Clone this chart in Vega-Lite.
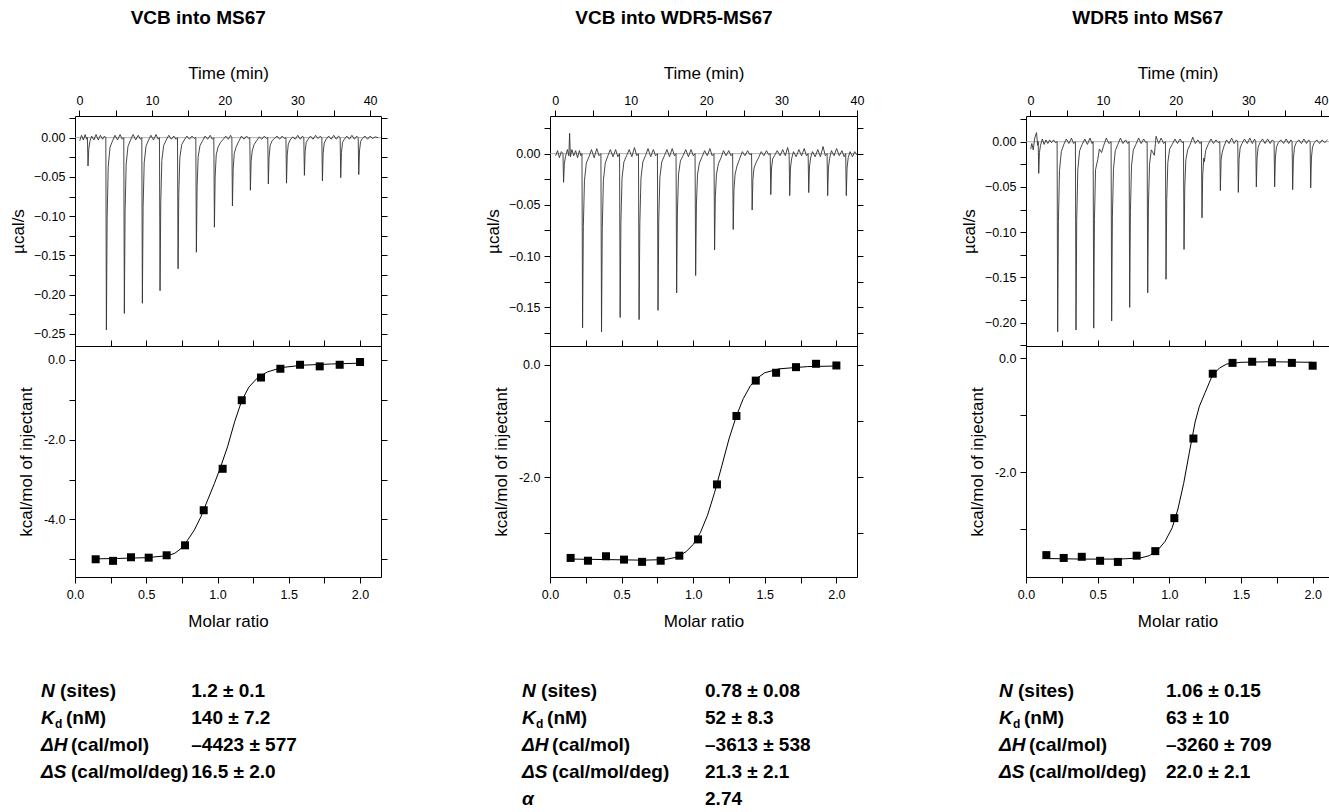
{
"$schema":"https://vega.github.io/schema/vega-lite/v6.json",
"padding":{"left":8,"top":8,"right":0,"bottom":0},
"autosize":{"type":"pad"},
"config":{
 "font":"Liberation Sans",
 "view":{"stroke":"black","strokeWidth":1},
 "axis":{"domain":false,"grid":false,"tickColor":"black","tickWidth":1,"labelFont":"Liberation Sans","labelFontSize":12.5,"labelColor":"black","titleFont":"Liberation Sans","titleFontSize":17,"titleFontWeight":"normal","titleColor":"black","labelFlush":false,"labelOverlap":false,"labelBound":false},
 "title":{"font":"Liberation Sans","fontSize":19,"fontWeight":"bold","color":"black","anchor":"middle","frame":"bounds","offset":36},
 "text":{"font":"Liberation Sans","color":"black"}
},
"datasets":{
"r1":[{"t":0.05,"v":-0.004},{"t":0.3,"v":0.003},{"t":0.55,"v":-0.003},{"t":0.8,"v":0.004},{"t":1.0,"v":-0.002},{"t":1.11,"v":0},{"t":1.19,"v":-0.036},{"t":1.29,"v":-0.015},{"t":1.44,"v":-0.005},{"t":1.69,"v":0.002},{"t":2.0,"v":-0.003},{"t":2.3,"v":0.004},{"t":2.6,"v":-0.003},{"t":2.9,"v":0.003},{"t":3.2,"v":-0.002},{"t":3.45,"v":0.002},{"t":3.64,"v":0},
{"t":3.72,"v":-0.245},{"t":3.82,"v":-0.103},{"t":3.97,"v":-0.037},{"t":4.22,"v":-0.012},{"t":4.57,"v":-0.004},{"t":4.9,"v":0.003},{"t":5.25,"v":-0.003},{"t":5.6,"v":0.004},{"t":5.9,"v":-0.002},{"t":6.11,"v":0},
{"t":6.19,"v":-0.224},{"t":6.29,"v":-0.094},{"t":6.44,"v":-0.034},{"t":6.69,"v":-0.011},{"t":7.04,"v":-0.003},{"t":7.4,"v":0.004},{"t":7.75,"v":-0.003},{"t":8.1,"v":0.003},{"t":8.4,"v":-0.002},{"t":8.59,"v":0},
{"t":8.67,"v":-0.211},{"t":8.77,"v":-0.089},{"t":8.92,"v":-0.032},{"t":9.17,"v":-0.011},{"t":9.52,"v":-0.003},{"t":9.85,"v":0.003},{"t":10.2,"v":-0.003},{"t":10.55,"v":0.004},{"t":10.85,"v":-0.002},{"t":11.02,"v":0},
{"t":11.1,"v":-0.195},{"t":11.2,"v":-0.082},{"t":11.35,"v":-0.029},{"t":11.6,"v":-0.01},{"t":11.95,"v":-0.003},{"t":12.3,"v":0.003},{"t":12.65,"v":-0.002},{"t":13.0,"v":0.002},{"t":13.3,"v":-0.002},{"t":13.5,"v":0},
{"t":13.58,"v":-0.167},{"t":13.68,"v":-0.07},{"t":13.83,"v":-0.025},{"t":14.08,"v":-0.009},{"t":14.43,"v":-0.003},{"t":14.8,"v":0.002},{"t":15.15,"v":-0.002},{"t":15.5,"v":0.002},{"t":15.8,"v":-0.001},{"t":16.02,"v":0},
{"t":16.1,"v":-0.146},{"t":16.2,"v":-0.062},{"t":16.35,"v":-0.024},{"t":16.6,"v":-0.01},{"t":16.95,"v":-0.004},{"t":17.3,"v":0.002},{"t":17.65,"v":-0.002},{"t":18.0,"v":0.003},{"t":18.3,"v":-0.002},{"t":18.5,"v":0},
{"t":18.58,"v":-0.114},{"t":18.68,"v":-0.05},{"t":18.83,"v":-0.022},{"t":19.08,"v":-0.012},{"t":19.43,"v":-0.006},{"t":19.8,"v":-0.002},{"t":20.15,"v":0.002},{"t":20.5,"v":-0.002},{"t":20.8,"v":0.003},{"t":20.98,"v":0},
{"t":21.06,"v":-0.087},{"t":21.16,"v":-0.04},{"t":21.31,"v":-0.02},{"t":21.56,"v":-0.012},{"t":21.91,"v":-0.005},{"t":22.3,"v":0.002},{"t":22.65,"v":-0.002},{"t":23.0,"v":0.002},{"t":23.3,"v":-0.001},{"t":23.45,"v":0},
{"t":23.53,"v":-0.067},{"t":23.63,"v":-0.03},{"t":23.78,"v":-0.017},{"t":24.03,"v":-0.009},{"t":24.38,"v":-0.004},{"t":24.75,"v":0.001},{"t":25.1,"v":-0.002},{"t":25.45,"v":0.002},{"t":25.75,"v":-0.001},{"t":25.92,"v":0},
{"t":26.0,"v":-0.059},{"t":26.1,"v":-0.025},{"t":26.25,"v":-0.01},{"t":26.5,"v":-0.004},{"t":26.85,"v":-0.001},{"t":27.2,"v":0.002},{"t":27.55,"v":-0.002},{"t":27.9,"v":0.002},{"t":28.2,"v":-0.001},{"t":28.42,"v":0},
{"t":28.5,"v":-0.058},{"t":28.6,"v":-0.022},{"t":28.75,"v":-0.008},{"t":29.0,"v":-0.003},{"t":29.35,"v":0.001},{"t":29.7,"v":-0.002},{"t":30.05,"v":0.003},{"t":30.4,"v":-0.002},{"t":30.7,"v":0.002},{"t":30.88,"v":0},
{"t":30.96,"v":-0.048},{"t":31.06,"v":-0.018},{"t":31.21,"v":-0.006},{"t":31.46,"v":-0.002},{"t":31.8,"v":0.002},{"t":32.15,"v":-0.002},{"t":32.5,"v":0.003},{"t":32.85,"v":-0.001},{"t":33.15,"v":0.002},{"t":33.36,"v":0},
{"t":33.44,"v":-0.055},{"t":33.54,"v":-0.02},{"t":33.69,"v":-0.007},{"t":33.94,"v":-0.002},{"t":34.3,"v":0.002},{"t":34.65,"v":-0.002},{"t":35.0,"v":0.003},{"t":35.35,"v":-0.002},{"t":35.65,"v":0.002},{"t":35.88,"v":0},
{"t":35.96,"v":-0.051},{"t":36.06,"v":-0.019},{"t":36.21,"v":-0.006},{"t":36.46,"v":-0.002},{"t":36.8,"v":0.002},{"t":37.15,"v":-0.002},{"t":37.5,"v":0.003},{"t":37.85,"v":-0.002},{"t":38.15,"v":0.002},{"t":38.36,"v":0},
{"t":38.44,"v":-0.047},{"t":38.54,"v":-0.017},{"t":38.69,"v":-0.005},{"t":38.94,"v":-0.001},{"t":39.3,"v":0.002},{"t":39.65,"v":-0.002},{"t":40.0,"v":0.002},{"t":40.35,"v":-0.001},{"t":40.7,"v":0.001},{"t":41.1,"v":0}],
"r2":[{"t":0.05,"v":-0.002},{"t":0.3,"v":0.003},{"t":0.55,"v":-0.004},{"t":0.8,"v":0.002},{"t":1.02,"v":0},{"t":1.1,"v":-0.028},{"t":1.2,"v":-0.01},{"t":1.35,"v":-0.003},{"t":1.6,"v":0.004},{"t":1.8,"v":-0.002},{"t":1.9,"v":0.02},{"t":2.0,"v":-0.003},{"t":2.2,"v":0.004},{"t":2.45,"v":-0.002},{"t":2.7,"v":0.003},{"t":2.95,"v":-0.004},{"t":3.2,"v":0.003},{"t":3.4,"v":-0.002},{"t":3.54,"v":0},
{"t":3.62,"v":-0.17},{"t":3.72,"v":-0.071},{"t":3.87,"v":-0.026},{"t":4.12,"v":-0.009},{"t":4.47,"v":-0.003},{"t":4.8,"v":0.004},{"t":5.15,"v":-0.004},{"t":5.5,"v":0.005},{"t":5.8,"v":-0.002},{"t":6.05,"v":0},
{"t":6.13,"v":-0.174},{"t":6.23,"v":-0.073},{"t":6.38,"v":-0.026},{"t":6.63,"v":-0.009},{"t":6.98,"v":-0.002},{"t":7.3,"v":0.004},{"t":7.65,"v":-0.003},{"t":8.0,"v":0.004},{"t":8.3,"v":-0.003},{"t":8.52,"v":0},
{"t":8.6,"v":-0.16},{"t":8.7,"v":-0.067},{"t":8.85,"v":-0.024},{"t":9.1,"v":-0.008},{"t":9.45,"v":-0.002},{"t":9.8,"v":0.004},{"t":10.15,"v":-0.003},{"t":10.5,"v":0.006},{"t":10.8,"v":-0.002},{"t":11.03,"v":0},
{"t":11.11,"v":-0.162},{"t":11.21,"v":-0.068},{"t":11.36,"v":-0.024},{"t":11.61,"v":-0.008},{"t":11.96,"v":-0.002},{"t":12.3,"v":0.005},{"t":12.65,"v":-0.003},{"t":13.0,"v":0.004},{"t":13.3,"v":-0.002},{"t":13.54,"v":0},
{"t":13.62,"v":-0.153},{"t":13.72,"v":-0.064},{"t":13.87,"v":-0.023},{"t":14.12,"v":-0.008},{"t":14.47,"v":-0.002},{"t":14.8,"v":0.004},{"t":15.15,"v":-0.003},{"t":15.5,"v":0.005},{"t":15.8,"v":-0.002},{"t":16.01,"v":0},
{"t":16.09,"v":-0.136},{"t":16.19,"v":-0.057},{"t":16.34,"v":-0.02},{"t":16.59,"v":-0.007},{"t":16.94,"v":-0.002},{"t":17.3,"v":0.004},{"t":17.65,"v":-0.003},{"t":18.0,"v":0.004},{"t":18.3,"v":-0.002},{"t":18.53,"v":0},
{"t":18.61,"v":-0.119},{"t":18.71,"v":-0.05},{"t":18.86,"v":-0.02},{"t":19.11,"v":-0.009},{"t":19.46,"v":-0.003},{"t":19.8,"v":0.003},{"t":20.15,"v":-0.002},{"t":20.5,"v":0.005},{"t":20.8,"v":-0.002},{"t":21.04,"v":0},
{"t":21.12,"v":-0.094},{"t":21.22,"v":-0.042},{"t":21.37,"v":-0.02},{"t":21.62,"v":-0.01},{"t":21.97,"v":-0.004},{"t":22.3,"v":0.003},{"t":22.65,"v":-0.002},{"t":23.0,"v":0.003},{"t":23.3,"v":-0.002},{"t":23.51,"v":0},
{"t":23.59,"v":-0.074},{"t":23.69,"v":-0.035},{"t":23.84,"v":-0.02},{"t":24.09,"v":-0.012},{"t":24.44,"v":-0.005},{"t":24.8,"v":0.002},{"t":25.15,"v":-0.002},{"t":25.5,"v":0.003},{"t":25.8,"v":-0.001},{"t":26.02,"v":0},
{"t":26.1,"v":-0.055},{"t":26.2,"v":-0.025},{"t":26.35,"v":-0.014},{"t":26.6,"v":-0.009},{"t":26.95,"v":-0.004},{"t":27.3,"v":0.002},{"t":27.65,"v":-0.002},{"t":28.0,"v":0.003},{"t":28.3,"v":-0.001},{"t":28.49,"v":0},
{"t":28.57,"v":-0.04},{"t":28.67,"v":-0.014},{"t":28.82,"v":-0.005},{"t":29.07,"v":-0.002},{"t":29.42,"v":0.003},{"t":29.8,"v":-0.002},{"t":30.15,"v":0.004},{"t":30.5,"v":-0.002},{"t":30.8,"v":0.006},{"t":31.0,"v":0},
{"t":31.08,"v":-0.041},{"t":31.18,"v":-0.014},{"t":31.33,"v":-0.005},{"t":31.58,"v":0.002},{"t":31.93,"v":-0.003},{"t":32.3,"v":0.004},{"t":32.65,"v":-0.002},{"t":33.0,"v":0.005},{"t":33.3,"v":-0.002},{"t":33.52,"v":0},
{"t":33.6,"v":-0.038},{"t":33.7,"v":-0.013},{"t":33.85,"v":-0.004},{"t":34.1,"v":0.002},{"t":34.45,"v":-0.003},{"t":34.8,"v":0.004},{"t":35.15,"v":-0.003},{"t":35.5,"v":0.007},{"t":35.8,"v":-0.002},{"t":36.03,"v":0},
{"t":36.11,"v":-0.041},{"t":36.21,"v":-0.014},{"t":36.36,"v":-0.005},{"t":36.61,"v":0.003},{"t":36.96,"v":-0.002},{"t":37.3,"v":0.005},{"t":37.65,"v":-0.002},{"t":38.0,"v":0.003},{"t":38.3,"v":-0.003},{"t":38.5,"v":0},
{"t":38.58,"v":-0.041},{"t":38.68,"v":-0.014},{"t":38.83,"v":-0.004},{"t":39.08,"v":0.002},{"t":39.4,"v":-0.003},{"t":39.7,"v":0.002},{"t":39.95,"v":-0.001}],
"r3":[{"t":0.05,"v":-0.008},{"t":0.2,"v":-0.002},{"t":0.4,"v":-0.009},{"t":0.6,"v":0.004},{"t":0.85,"v":0.01},{"t":1.0,"v":-0.004},{"t":1.08,"v":0},{"t":1.15,"v":-0.035},{"t":1.25,"v":-0.012},{"t":1.4,"v":-0.004},{"t":1.65,"v":0.003},{"t":1.9,"v":-0.003},{"t":2.15,"v":0.002},{"t":2.4,"v":-0.002},{"t":2.65,"v":0.002},{"t":2.9,"v":-0.001},{"t":3.2,"v":0.002},{"t":3.45,"v":-0.001},{"t":3.68,"v":0},
{"t":3.76,"v":-0.21},{"t":3.86,"v":-0.088},{"t":4.01,"v":-0.032},{"t":4.26,"v":-0.011},{"t":4.61,"v":-0.003},{"t":4.95,"v":0.003},{"t":5.3,"v":-0.002},{"t":5.65,"v":0.004},{"t":5.95,"v":-0.002},{"t":6.2,"v":0},
{"t":6.28,"v":-0.208},{"t":6.38,"v":-0.087},{"t":6.53,"v":-0.031},{"t":6.78,"v":-0.01},{"t":7.13,"v":-0.003},{"t":7.5,"v":0.003},{"t":7.85,"v":-0.003},{"t":8.2,"v":0.004},{"t":8.5,"v":-0.002},{"t":8.64,"v":0},
{"t":8.72,"v":-0.206},{"t":8.82,"v":-0.086},{"t":8.97,"v":-0.031},{"t":9.27,"v":-0.02},{"t":9.5,"v":-0.008},{"t":9.8,"v":-0.012},{"t":10.1,"v":-0.004},{"t":10.45,"v":0.004},{"t":10.8,"v":-0.002},{"t":11.11,"v":0},
{"t":11.19,"v":-0.198},{"t":11.29,"v":-0.083},{"t":11.44,"v":-0.03},{"t":11.69,"v":-0.01},{"t":12.04,"v":-0.003},{"t":12.4,"v":0.004},{"t":12.75,"v":-0.002},{"t":13.1,"v":0.002},{"t":13.4,"v":-0.002},{"t":13.59,"v":0},
{"t":13.67,"v":-0.183},{"t":13.77,"v":-0.077},{"t":13.92,"v":-0.027},{"t":14.17,"v":-0.009},{"t":14.52,"v":-0.003},{"t":14.9,"v":0.004},{"t":15.25,"v":-0.002},{"t":15.6,"v":0.003},{"t":15.9,"v":-0.001},{"t":16.07,"v":0},
{"t":16.15,"v":-0.167},{"t":16.25,"v":-0.07},{"t":16.4,"v":-0.025},{"t":16.65,"v":-0.009},{"t":17.06,"v":-0.015},{"t":17.3,"v":0.006},{"t":17.65,"v":-0.002},{"t":18.0,"v":0.004},{"t":18.35,"v":-0.002},{"t":18.59,"v":0},
{"t":18.67,"v":-0.152},{"t":18.77,"v":-0.064},{"t":18.92,"v":-0.023},{"t":19.17,"v":-0.008},{"t":19.52,"v":-0.003},{"t":19.9,"v":0.003},{"t":20.25,"v":-0.002},{"t":20.6,"v":0.003},{"t":20.9,"v":-0.001},{"t":21.07,"v":0},
{"t":21.15,"v":-0.119},{"t":21.25,"v":-0.05},{"t":21.4,"v":-0.02},{"t":21.65,"v":-0.009},{"t":22.0,"v":-0.003},{"t":22.35,"v":0.005},{"t":22.7,"v":-0.002},{"t":23.05,"v":0.002},{"t":23.35,"v":-0.002},{"t":23.54,"v":0},
{"t":23.62,"v":-0.084},{"t":23.72,"v":-0.037},{"t":23.87,"v":-0.018},{"t":23.95,"v":-0.022},{"t":24.12,"v":-0.01},{"t":24.47,"v":-0.003},{"t":24.85,"v":0.003},{"t":25.2,"v":-0.002},{"t":25.55,"v":0.002},{"t":25.85,"v":-0.001},{"t":26.07,"v":0},
{"t":26.15,"v":-0.054},{"t":26.25,"v":-0.02},{"t":26.4,"v":-0.012},{"t":26.65,"v":-0.005},{"t":27.0,"v":0.002},{"t":27.35,"v":-0.002},{"t":27.7,"v":0.004},{"t":28.05,"v":-0.002},{"t":28.35,"v":0.002},{"t":28.54,"v":0},
{"t":28.62,"v":-0.056},{"t":28.72,"v":-0.02},{"t":28.87,"v":-0.007},{"t":29.12,"v":-0.002},{"t":29.47,"v":0.003},{"t":29.85,"v":-0.002},{"t":30.2,"v":0.004},{"t":30.55,"v":-0.002},{"t":30.85,"v":0.003},{"t":31.02,"v":0},
{"t":31.1,"v":-0.05},{"t":31.2,"v":-0.018},{"t":31.35,"v":-0.006},{"t":31.6,"v":-0.001},{"t":31.95,"v":0.003},{"t":32.3,"v":-0.002},{"t":32.65,"v":0.003},{"t":33.0,"v":-0.002},{"t":33.3,"v":0.002},{"t":33.54,"v":0},
{"t":33.62,"v":-0.05},{"t":33.72,"v":-0.018},{"t":33.87,"v":-0.006},{"t":34.12,"v":-0.001},{"t":34.47,"v":0.002},{"t":34.85,"v":-0.002},{"t":35.2,"v":0.003},{"t":35.55,"v":-0.002},{"t":35.85,"v":0.002},{"t":36.02,"v":0},
{"t":36.1,"v":-0.053},{"t":36.2,"v":-0.019},{"t":36.35,"v":-0.006},{"t":36.6,"v":-0.001},{"t":36.95,"v":0.002},{"t":37.3,"v":-0.002},{"t":37.65,"v":0.003},{"t":38.0,"v":-0.002},{"t":38.3,"v":0.002},{"t":38.5,"v":0},
{"t":38.58,"v":-0.051},{"t":38.68,"v":-0.018},{"t":38.83,"v":-0.006},{"t":39.08,"v":-0.001},{"t":39.43,"v":0.002},{"t":39.8,"v":-0.002},{"t":40.15,"v":0.002},{"t":40.5,"v":-0.001},{"t":40.9,"v":0.002}],
"f1":[{"m":0.14,"h":-4.99},{"m":0.3,"h":-4.98},{"m":0.5,"h":-4.96},{"m":0.65,"h":-4.91},{"m":0.7,"h":-4.85},{"m":0.744,"h":-4.73},{"m":0.79,"h":-4.52},{"m":0.837,"h":-4.27},{"m":0.884,"h":-3.93},{"m":0.931,"h":-3.51},{"m":0.978,"h":-3.1},{"m":1.02,"h":-2.7},{"m":1.07,"h":-2.18},{"m":1.12,"h":-1.55},{"m":1.17,"h":-1.02},{"m":1.22,"h":-0.68},{"m":1.28,"h":-0.45},{"m":1.35,"h":-0.3},{"m":1.45,"h":-0.19},{"m":1.6,"h":-0.13},{"m":1.8,"h":-0.1},{"m":2.0,"h":-0.08}],
"f2":[{"m":0.14,"h":-3.46},{"m":0.4,"h":-3.47},{"m":0.65,"h":-3.48},{"m":0.8,"h":-3.47},{"m":0.88,"h":-3.43},{"m":0.95,"h":-3.33},{"m":1.0,"h":-3.2},{"m":1.05,"h":-2.99},{"m":1.1,"h":-2.68},{"m":1.15,"h":-2.27},{"m":1.2,"h":-1.8},{"m":1.25,"h":-1.32},{"m":1.3,"h":-0.92},{"m":1.35,"h":-0.6},{"m":1.4,"h":-0.37},{"m":1.45,"h":-0.23},{"m":1.5,"h":-0.14},{"m":1.6,"h":-0.07},{"m":1.8,"h":-0.03},{"m":2.0,"h":-0.02}],
"f3":[{"m":0.14,"h":-3.52},{"m":0.4,"h":-3.53},{"m":0.65,"h":-3.53},{"m":0.8,"h":-3.51},{"m":0.86,"h":-3.47},{"m":0.92,"h":-3.37},{"m":0.97,"h":-3.22},{"m":1.02,"h":-2.98},{"m":1.06,"h":-2.65},{"m":1.1,"h":-2.2},{"m":1.14,"h":-1.65},{"m":1.18,"h":-1.12},{"m":1.21,"h":-0.84},{"m":1.25,"h":-0.6},{"m":1.3,"h":-0.3},{"m":1.35,"h":-0.17},{"m":1.4,"h":-0.1},{"m":1.5,"h":-0.07},{"m":1.7,"h":-0.06},{"m":2.0,"h":-0.07}],
"p1":[{"m":0.145,"h":-5.0},{"m":0.267,"h":-5.04},{"m":0.393,"h":-4.95},{"m":0.517,"h":-4.96},{"m":0.643,"h":-4.9},{"m":0.772,"h":-4.65},{"m":0.903,"h":-3.77},{"m":1.036,"h":-2.73},{"m":1.17,"h":-1.01},{"m":1.305,"h":-0.44},{"m":1.441,"h":-0.22},{"m":1.579,"h":-0.12},{"m":1.717,"h":-0.16},{"m":1.857,"h":-0.12},{"m":2.0,"h":-0.05}],
"p2":[{"m":0.144,"h":-3.44},{"m":0.265,"h":-3.49},{"m":0.391,"h":-3.41},{"m":0.517,"h":-3.47},{"m":0.643,"h":-3.51},{"m":0.773,"h":-3.49},{"m":0.903,"h":-3.4},{"m":1.034,"h":-3.11},{"m":1.166,"h":-2.13},{"m":1.302,"h":-0.91},{"m":1.437,"h":-0.28},{"m":1.579,"h":-0.14},{"m":1.718,"h":-0.04},{"m":1.858,"h":0.02},{"m":2.0,"h":-0.01}],
"p3":[{"m":0.142,"h":-3.46},{"m":0.263,"h":-3.51},{"m":0.389,"h":-3.49},{"m":0.517,"h":-3.56},{"m":0.641,"h":-3.58},{"m":0.772,"h":-3.47},{"m":0.902,"h":-3.39},{"m":1.035,"h":-2.81},{"m":1.168,"h":-1.41},{"m":1.303,"h":-0.27},{"m":1.441,"h":-0.08},{"m":1.578,"h":-0.06},{"m":1.716,"h":-0.07},{"m":1.855,"h":-0.08},{"m":2.0,"h":-0.13}],
"tab":[
{"p":1,"r":1,"k":"N","sym":"N","rest":"(sites)","val":"1.2 ± 0.1"},
{"p":1,"r":2,"k":"K","sym":"K","sub":"d","rest":"(nM)","val":"140 ± 7.2"},
{"p":1,"r":3,"k":"D","sym":"ΔH","rest":"(cal/mol)","val":"–4423 ± 577"},
{"p":1,"r":4,"k":"D","sym":"ΔS","rest":"(cal/mol/deg)","val":"16.5 ± 2.0"},
{"p":2,"r":1,"k":"N","sym":"N","rest":"(sites)","val":"0.78 ± 0.08"},
{"p":2,"r":2,"k":"K","sym":"K","sub":"d","rest":"(nM)","val":"52 ± 8.3"},
{"p":2,"r":3,"k":"D","sym":"ΔH","rest":"(cal/mol)","val":"–3613 ± 538"},
{"p":2,"r":4,"k":"D","sym":"ΔS","rest":"(cal/mol/deg)","val":"21.3 ± 2.1"},
{"p":2,"r":5,"k":"A","sym":"α","val":"2.74"},
{"p":3,"r":1,"k":"N","sym":"N","rest":"(sites)","val":"1.06 ± 0.15"},
{"p":3,"r":2,"k":"K","sym":"K","sub":"d","rest":"(nM)","val":"63 ± 10"},
{"p":3,"r":3,"k":"D","sym":"ΔH","rest":"(cal/mol)","val":"–3260 ± 709"},
{"p":3,"r":4,"k":"D","sym":"ΔS","rest":"(cal/mol/deg)","val":"22.0 ± 2.1"}
]
},
"bounds":"flush",
"columns":3,
"spacing":{"row":0,"column":169},
"concat":[
 {"width":306,"height":230,"title":"VCB into MS67",
  "layer":[
   {"data":{"values":[{}]},"mark":{"type":"rule","color":"#999999","strokeWidth":0.8},
    "encoding":{"y":{"datum":0,"type":"quantitative","scale":{"domain":[-0.2654,0.0276],"nice":false,"zero":false},
     "axis":{"orient":"right","title":null,"labels":false,"values":[-0.25,-0.225,-0.2,-0.175,-0.15,-0.125,-0.1,-0.075,-0.05,-0.025,0,0.025],"tickSize":6,
      "encode":{"ticks":{"x2":{"condition":{"test":"abs(datum.value*20-round(datum.value*20))<0.01","value":-6},"value":-3}}}}}}},
   {"data":{"name":"r1"},"mark":{"type":"line","color":"#333333","strokeWidth":0.9},
    "encoding":{
     "x":{"field":"t","type":"quantitative","scale":{"domain":[-0.6,41.5],"nice":false,"zero":false},
      "axis":{"orient":"top","title":"Time (min)","values":[0,5,10,15,20,25,30,35,40],"labelExpr":"datum.value % 10 === 0 ? format(datum.value,'d') : ''","tickSize":6,"labelPadding":3,"minExtent":24,"maxExtent":24,"titlePadding":10,
       "encode":{"ticks":{"y2":{"condition":{"test":"datum.value % 10 === 0","value":-6},"value":-3}}}}},
     "y":{"field":"v","type":"quantitative","scale":{"domain":[-0.2654,0.0276],"nice":false,"zero":false},
      "axis":{"orient":"left","title":"µcal/s","values":[-0.25,-0.225,-0.2,-0.175,-0.15,-0.125,-0.1,-0.075,-0.05,-0.025,0,0.025],"labelExpr":"abs(datum.value*20-round(datum.value*20))<0.01 ? format(datum.value,'.2f') : ''","tickSize":6,"labelPadding":4,"minExtent":44,"maxExtent":44,"titlePadding":4,
       "encode":{"ticks":{"x2":{"condition":{"test":"abs(datum.value*20-round(datum.value*20))<0.01","value":-6},"value":-3}}}}}}}
  ],
  "resolve":{"axis":{"y":"independent"}}},
 {"width":307,"height":230,"title":"VCB into WDR5-MS67",
  "layer":[
   {"data":{"values":[{}]},"mark":{"type":"rule","color":"#999999","strokeWidth":0.8},
    "encoding":{"y":{"datum":0,"type":"quantitative","scale":{"domain":[-0.1878,0.0368],"nice":false,"zero":false},
     "axis":{"orient":"right","title":null,"labels":false,"values":[-0.175,-0.15,-0.125,-0.1,-0.075,-0.05,-0.025,0,0.025],"tickSize":6,
      "encode":{"ticks":{"x2":{"condition":{"test":"abs(datum.value*20-round(datum.value*20))<0.01","value":-6},"value":-3}}}}}}},
   {"data":{"name":"r2"},"mark":{"type":"line","color":"#333333","strokeWidth":0.9},
    "encoding":{
     "x":{"field":"t","type":"quantitative","scale":{"domain":[-0.7,40.0],"nice":false,"zero":false},
      "axis":{"orient":"top","title":"Time (min)","values":[0,5,10,15,20,25,30,35,40],"labelExpr":"datum.value % 10 === 0 ? format(datum.value,'d') : ''","tickSize":6,"labelPadding":3,"minExtent":24,"maxExtent":24,"titlePadding":10,
       "encode":{"ticks":{"y2":{"condition":{"test":"datum.value % 10 === 0","value":-6},"value":-3}}}}},
     "y":{"field":"v","type":"quantitative","scale":{"domain":[-0.1878,0.0368],"nice":false,"zero":false},
      "axis":{"orient":"left","title":"µcal/s","values":[-0.175,-0.15,-0.125,-0.1,-0.075,-0.05,-0.025,0,0.025],"labelExpr":"abs(datum.value*20-round(datum.value*20))<0.01 ? format(datum.value,'.2f') : ''","tickSize":6,"labelPadding":4,"minExtent":44,"maxExtent":44,"titlePadding":4,
       "encode":{"ticks":{"x2":{"condition":{"test":"abs(datum.value*20-round(datum.value*20))<0.01","value":-6},"value":-3}}}}}}}
  ],
  "resolve":{"axis":{"y":"independent"}}},
 {"width":303,"height":230,"title":"WDR5 into MS67",
  "layer":[
   {"data":{"values":[{}]},"mark":{"type":"rule","color":"#999999","strokeWidth":0.8},
    "encoding":{"y":{"datum":0,"type":"quantitative","scale":{"domain":[-0.2257,0.0284],"nice":false,"zero":false},
     "axis":{"orient":"right","title":null,"labels":false,"values":[-0.225,-0.2,-0.175,-0.15,-0.125,-0.1,-0.075,-0.05,-0.025,0,0.025],"tickSize":6,
      "encode":{"ticks":{"x2":{"condition":{"test":"abs(datum.value*20-round(datum.value*20))<0.01","value":-6},"value":-3}}}}}}},
   {"data":{"name":"r3"},"mark":{"type":"line","color":"#333333","strokeWidth":0.9},
    "encoding":{
     "x":{"field":"t","type":"quantitative","scale":{"domain":[-0.6,41.1],"nice":false,"zero":false},
      "axis":{"orient":"top","title":"Time (min)","values":[0,5,10,15,20,25,30,35,40],"labelExpr":"datum.value % 10 === 0 ? format(datum.value,'d') : ''","tickSize":6,"labelPadding":3,"minExtent":24,"maxExtent":24,"titlePadding":10,
       "encode":{"ticks":{"y2":{"condition":{"test":"datum.value % 10 === 0","value":-6},"value":-3}}}}},
     "y":{"field":"v","type":"quantitative","scale":{"domain":[-0.2257,0.0284],"nice":false,"zero":false},
      "axis":{"orient":"left","title":"µcal/s","values":[-0.225,-0.2,-0.175,-0.15,-0.125,-0.1,-0.075,-0.05,-0.025,0,0.025],"labelExpr":"abs(datum.value*20-round(datum.value*20))<0.01 ? format(datum.value,'.2f') : ''","tickSize":6,"labelPadding":4,"minExtent":44,"maxExtent":44,"titlePadding":4,
       "encode":{"ticks":{"x2":{"condition":{"test":"abs(datum.value*20-round(datum.value*20))<0.01","value":-6},"value":-3}}}}}}}
  ],
  "resolve":{"axis":{"y":"independent"}}},
 {"width":306,"height":231,
  "layer":[
   {"data":{"name":"f1"},"mark":{"type":"line","color":"black","strokeWidth":1},
    "encoding":{
     "x":{"field":"m","type":"quantitative","scale":{"domain":[0,2.147],"nice":false,"zero":false},
      "axis":{"orient":"bottom","title":"Molar ratio","values":[0,0.25,0.5,0.75,1,1.25,1.5,1.75,2],"labelExpr":"abs(datum.value*2-round(datum.value*2))<0.01 ? format(datum.value,'.1f') : ''","tickSize":6,"labelPadding":5,"minExtent":25,"maxExtent":25,"titlePadding":11,
       "encode":{"ticks":{"y2":{"condition":{"test":"abs(datum.value*2-round(datum.value*2))<0.01","value":6},"value":3}}}}},
     "y":{"field":"h","type":"quantitative","scale":{"domain":[-5.445,0.351],"nice":false,"zero":false},
      "axis":{"orient":"left","title":"kcal/mol of injectant","values":[-5,-4,-3,-2,-1,0],"labelExpr":"datum.value % 2 === 0 ? replace(format(datum.value,'.1f'),'−','-') : ''","tickSize":6,"labelPadding":4,"minExtent":36,"maxExtent":36,"titlePadding":4,
       "encode":{"ticks":{"x2":{"condition":{"test":"datum.value % 2 === 0","value":-6},"value":-3}}}}}}},
   {"data":{"name":"p1"},"mark":{"type":"square","color":"black","size":64,"opacity":1},
    "encoding":{
     "x":{"field":"m","type":"quantitative","scale":{"domain":[0,2.147],"nice":false,"zero":false},
      "axis":{"orient":"top","title":null,"labels":false,"values":[0,0.25,0.5,0.75,1,1.25,1.5,1.75,2],"tickSize":6,
       "encode":{"ticks":{"y2":{"condition":{"test":"abs(datum.value*2-round(datum.value*2))<0.01","value":6},"value":3}}}}},
     "y":{"field":"h","type":"quantitative","scale":{"domain":[-5.445,0.351],"nice":false,"zero":false},
      "axis":{"orient":"right","title":null,"labels":false,"values":[-5,-4,-3,-2,-1,0],"tickSize":6,
       "encode":{"ticks":{"x2":{"condition":{"test":"datum.value % 2 === 0","value":-6},"value":-3}}}}}}}
  ],
  "resolve":{"axis":{"x":"independent","y":"independent"}}},
 {"width":307,"height":231,
  "layer":[
   {"data":{"name":"f2"},"mark":{"type":"line","color":"black","strokeWidth":1},
    "encoding":{
     "x":{"field":"m","type":"quantitative","scale":{"domain":[0,2.144],"nice":false,"zero":false},
      "axis":{"orient":"bottom","title":"Molar ratio","values":[0,0.25,0.5,0.75,1,1.25,1.5,1.75,2],"labelExpr":"abs(datum.value*2-round(datum.value*2))<0.01 ? format(datum.value,'.1f') : ''","tickSize":6,"labelPadding":5,"minExtent":25,"maxExtent":25,"titlePadding":11,
       "encode":{"ticks":{"y2":{"condition":{"test":"abs(datum.value*2-round(datum.value*2))<0.01","value":6},"value":3}}}}},
     "y":{"field":"h","type":"quantitative","scale":{"domain":[-3.78,0.337],"nice":false,"zero":false},
      "axis":{"orient":"left","title":"kcal/mol of injectant","values":[-3,-2,-1,0],"labelExpr":"datum.value % 2 === 0 ? replace(format(datum.value,'.1f'),'−','-') : ''","tickSize":6,"labelPadding":4,"minExtent":36,"maxExtent":36,"titlePadding":4,
       "encode":{"ticks":{"x2":{"condition":{"test":"datum.value % 2 === 0","value":-6},"value":-3}}}}}}},
   {"data":{"name":"p2"},"mark":{"type":"square","color":"black","size":64,"opacity":1},
    "encoding":{
     "x":{"field":"m","type":"quantitative","scale":{"domain":[0,2.144],"nice":false,"zero":false},
      "axis":{"orient":"top","title":null,"labels":false,"values":[0,0.25,0.5,0.75,1,1.25,1.5,1.75,2],"tickSize":6,
       "encode":{"ticks":{"y2":{"condition":{"test":"abs(datum.value*2-round(datum.value*2))<0.01","value":6},"value":3}}}}},
     "y":{"field":"h","type":"quantitative","scale":{"domain":[-3.78,0.337],"nice":false,"zero":false},
      "axis":{"orient":"right","title":null,"labels":false,"values":[-3,-2,-1,0],"tickSize":6,
       "encode":{"ticks":{"x2":{"condition":{"test":"datum.value % 2 === 0","value":-6},"value":-3}}}}}}}
  ],
  "resolve":{"axis":{"x":"independent","y":"independent"}}},
 {"width":303,"height":231,
  "layer":[
   {"data":{"name":"f3"},"mark":{"type":"line","color":"black","strokeWidth":1},
    "encoding":{
     "x":{"field":"m","type":"quantitative","scale":{"domain":[0,2.114],"nice":false,"zero":false},
      "axis":{"orient":"bottom","title":"Molar ratio","values":[0,0.25,0.5,0.75,1,1.25,1.5,1.75,2],"labelExpr":"abs(datum.value*2-round(datum.value*2))<0.01 ? format(datum.value,'.1f') : ''","tickSize":6,"labelPadding":5,"minExtent":25,"maxExtent":25,"titlePadding":11,
       "encode":{"ticks":{"y2":{"condition":{"test":"abs(datum.value*2-round(datum.value*2))<0.01","value":6},"value":3}}}}},
     "y":{"field":"h","type":"quantitative","scale":{"domain":[-3.845,0.217],"nice":false,"zero":false},
      "axis":{"orient":"left","title":"kcal/mol of injectant","values":[-3,-2,-1,0],"labelExpr":"datum.value % 2 === 0 ? replace(format(datum.value,'.1f'),'−','-') : ''","tickSize":6,"labelPadding":4,"minExtent":36,"maxExtent":36,"titlePadding":4,
       "encode":{"ticks":{"x2":{"condition":{"test":"datum.value % 2 === 0","value":-6},"value":-3}}}}}}},
   {"data":{"name":"p3"},"mark":{"type":"square","color":"black","size":64,"opacity":1},
    "encoding":{
     "x":{"field":"m","type":"quantitative","scale":{"domain":[0,2.114],"nice":false,"zero":false},
      "axis":{"orient":"top","title":null,"labels":false,"values":[0,0.25,0.5,0.75,1,1.25,1.5,1.75,2],"tickSize":6,
       "encode":{"ticks":{"y2":{"condition":{"test":"abs(datum.value*2-round(datum.value*2))<0.01","value":6},"value":3}}}}},
     "y":{"field":"h","type":"quantitative","scale":{"domain":[-3.845,0.217],"nice":false,"zero":false},
      "axis":{"orient":"right","title":null,"labels":false,"values":[-3,-2,-1,0],"tickSize":6,
       "encode":{"ticks":{"x2":{"condition":{"test":"datum.value % 2 === 0","value":-6},"value":-3}}}}}}}
  ],
  "resolve":{"axis":{"x":"independent","y":"independent"}}},
 {"width":306,"height":230,"view":{"stroke":null},
  "data":{"name":"tab"},"transform":[{"filter":"datum.p==1"}],
  "encoding":{"y":{"field":"r","type":"quantitative","scale":{"domain":[-3.222,5.296],"reverse":true,"nice":false,"zero":false},"axis":null}},
  "layer":[
   {"mark":{"type":"text","align":"left","baseline":"middle","fontSize":19,"fontWeight":"bold","fontStyle":"italic"},
    "encoding":{"x":{"datum":-0.111,"type":"quantitative","scale":{"domain":[0,1],"nice":false},"axis":null},"text":{"field":"sym"}}},
   {"transform":[{"filter":"datum.k=='K'"}],"mark":{"type":"text","align":"left","baseline":"middle","fontSize":12,"fontWeight":"bold","dx":14,"dy":6},
    "encoding":{"x":{"datum":-0.111,"type":"quantitative","scale":{"domain":[0,1],"nice":false},"axis":null},"text":{"field":"sub"}}},
   {"transform":[{"filter":"datum.k=='N'"}],"mark":{"type":"text","align":"left","baseline":"middle","fontSize":19,"fontWeight":"bold","dx":19},
    "encoding":{"x":{"datum":-0.111,"type":"quantitative","scale":{"domain":[0,1],"nice":false},"axis":null},"text":{"field":"rest"}}},
   {"transform":[{"filter":"datum.k=='K'"}],"mark":{"type":"text","align":"left","baseline":"middle","fontSize":19,"fontWeight":"bold","dx":25},
    "encoding":{"x":{"datum":-0.111,"type":"quantitative","scale":{"domain":[0,1],"nice":false},"axis":null},"text":{"field":"rest"}}},
   {"transform":[{"filter":"datum.k=='D'"}],"mark":{"type":"text","align":"left","baseline":"middle","fontSize":19,"fontWeight":"bold","dx":30},
    "encoding":{"x":{"datum":-0.111,"type":"quantitative","scale":{"domain":[0,1],"nice":false},"axis":null},"text":{"field":"rest"}}},
   {"mark":{"type":"text","align":"left","baseline":"middle","fontSize":19,"fontWeight":"bold"},
    "encoding":{"x":{"datum":0.38,"type":"quantitative","scale":{"domain":[0,1],"nice":false},"axis":null},"text":{"field":"val"}}}
  ]},
 {"width":307,"height":230,"view":{"stroke":null},
  "data":{"name":"tab"},"transform":[{"filter":"datum.p==2"}],
  "encoding":{"y":{"field":"r","type":"quantitative","scale":{"domain":[-3.222,5.296],"reverse":true,"nice":false,"zero":false},"axis":null}},
  "layer":[
   {"mark":{"type":"text","align":"left","baseline":"middle","fontSize":19,"fontWeight":"bold","fontStyle":"italic"},
    "encoding":{"x":{"datum":-0.091,"type":"quantitative","scale":{"domain":[0,1],"nice":false},"axis":null},"text":{"field":"sym"}}},
   {"transform":[{"filter":"datum.k=='K'"}],"mark":{"type":"text","align":"left","baseline":"middle","fontSize":12,"fontWeight":"bold","dx":14,"dy":6},
    "encoding":{"x":{"datum":-0.091,"type":"quantitative","scale":{"domain":[0,1],"nice":false},"axis":null},"text":{"field":"sub"}}},
   {"transform":[{"filter":"datum.k=='N'"}],"mark":{"type":"text","align":"left","baseline":"middle","fontSize":19,"fontWeight":"bold","dx":19},
    "encoding":{"x":{"datum":-0.091,"type":"quantitative","scale":{"domain":[0,1],"nice":false},"axis":null},"text":{"field":"rest"}}},
   {"transform":[{"filter":"datum.k=='K'"}],"mark":{"type":"text","align":"left","baseline":"middle","fontSize":19,"fontWeight":"bold","dx":25},
    "encoding":{"x":{"datum":-0.091,"type":"quantitative","scale":{"domain":[0,1],"nice":false},"axis":null},"text":{"field":"rest"}}},
   {"transform":[{"filter":"datum.k=='D'"}],"mark":{"type":"text","align":"left","baseline":"middle","fontSize":19,"fontWeight":"bold","dx":30},
    "encoding":{"x":{"datum":-0.091,"type":"quantitative","scale":{"domain":[0,1],"nice":false},"axis":null},"text":{"field":"rest"}}},
   {"mark":{"type":"text","align":"left","baseline":"middle","fontSize":19,"fontWeight":"bold"},
    "encoding":{"x":{"datum":0.505,"type":"quantitative","scale":{"domain":[0,1],"nice":false},"axis":null},"text":{"field":"val"}}}
  ]},
 {"width":303,"height":230,"view":{"stroke":null},
  "data":{"name":"tab"},"transform":[{"filter":"datum.p==3"}],
  "encoding":{"y":{"field":"r","type":"quantitative","scale":{"domain":[-3.222,5.296],"reverse":true,"nice":false,"zero":false},"axis":null}},
  "layer":[
   {"mark":{"type":"text","align":"left","baseline":"middle","fontSize":19,"fontWeight":"bold","fontStyle":"italic"},
    "encoding":{"x":{"datum":-0.089,"type":"quantitative","scale":{"domain":[0,1],"nice":false},"axis":null},"text":{"field":"sym"}}},
   {"transform":[{"filter":"datum.k=='K'"}],"mark":{"type":"text","align":"left","baseline":"middle","fontSize":12,"fontWeight":"bold","dx":14,"dy":6},
    "encoding":{"x":{"datum":-0.089,"type":"quantitative","scale":{"domain":[0,1],"nice":false},"axis":null},"text":{"field":"sub"}}},
   {"transform":[{"filter":"datum.k=='N'"}],"mark":{"type":"text","align":"left","baseline":"middle","fontSize":19,"fontWeight":"bold","dx":19},
    "encoding":{"x":{"datum":-0.089,"type":"quantitative","scale":{"domain":[0,1],"nice":false},"axis":null},"text":{"field":"rest"}}},
   {"transform":[{"filter":"datum.k=='K'"}],"mark":{"type":"text","align":"left","baseline":"middle","fontSize":19,"fontWeight":"bold","dx":25},
    "encoding":{"x":{"datum":-0.089,"type":"quantitative","scale":{"domain":[0,1],"nice":false},"axis":null},"text":{"field":"rest"}}},
   {"transform":[{"filter":"datum.k=='D'"}],"mark":{"type":"text","align":"left","baseline":"middle","fontSize":19,"fontWeight":"bold","dx":30},
    "encoding":{"x":{"datum":-0.089,"type":"quantitative","scale":{"domain":[0,1],"nice":false},"axis":null},"text":{"field":"rest"}}},
   {"mark":{"type":"text","align":"left","baseline":"middle","fontSize":19,"fontWeight":"bold"},
    "encoding":{"x":{"datum":0.462,"type":"quantitative","scale":{"domain":[0,1],"nice":false},"axis":null},"text":{"field":"val"}}}
  ]}
]
}
